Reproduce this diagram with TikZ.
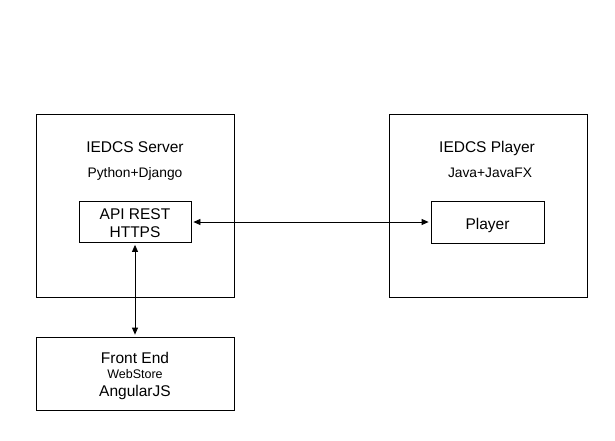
\documentclass[tikz,border=0pt]{standalone}
\usepackage{fontspec}
\setmainfont{Liberation Sans}
\usetikzlibrary{arrows.meta}
\tikzstyle{frame} = [draw=black,line width=0.8pt,rectangle,inner sep=0pt]
\tikzstyle{title} = [font=\fontsize{15.5}{18.5}\selectfont,inner sep=0pt,anchor=base]
\tikzstyle{tech} = [font=\fontsize{13.8}{15}\selectfont,inner sep=0pt,anchor=base]
\tikzstyle{edge} = [{Triangle[length=7pt,width=6pt]}-{Triangle[length=7pt,width=6pt]},line width=0.8pt,shorten <=2pt,shorten >=2pt]

\begin{document}
\begin{tikzpicture}[x=1pt,y=-1pt]
\useasboundingbox (0,0) rectangle (615,440);

% server
\node[frame,minimum width=198pt,minimum height=183pt] (S) at (135,205.5) {};
\node[title] at (135,152.5) {IEDCS Server};
\node[tech] at (135,177) {Python+Django};
\node[frame,minimum width=112pt,minimum height=41pt] (API) at (135,222) {};
\node[title] at (135,219) {API REST};
\node[title] at (135,237.5) {HTTPS};

% player
\node[frame,minimum width=198pt,minimum height=183pt] (P) at (488,205.5) {};
\node[title] at (487,152.5) {IEDCS Player};
\node[tech] at (490,177) {Java+JavaFX};
\node[frame,minimum width=113pt,minimum height=42pt] (PL) at (487.5,222) {};
\node[title] at (487.5,229) {Player};

% front end
\node[frame,minimum width=198pt,minimum height=73pt] (FE) at (135,373.5) {};
\node[title] at (135,363.5) {Front End};
\node[font=\fontsize{12.5}{14}\selectfont,inner sep=0pt,anchor=base] at (135,378.5) {WebStore};
\node[title] at (135,396.7) {AngularJS};

\draw[edge] (API.east) -- (PL.west);
\draw[edge] (API.south) -- (FE.north);
\end{tikzpicture}
\end{document}
